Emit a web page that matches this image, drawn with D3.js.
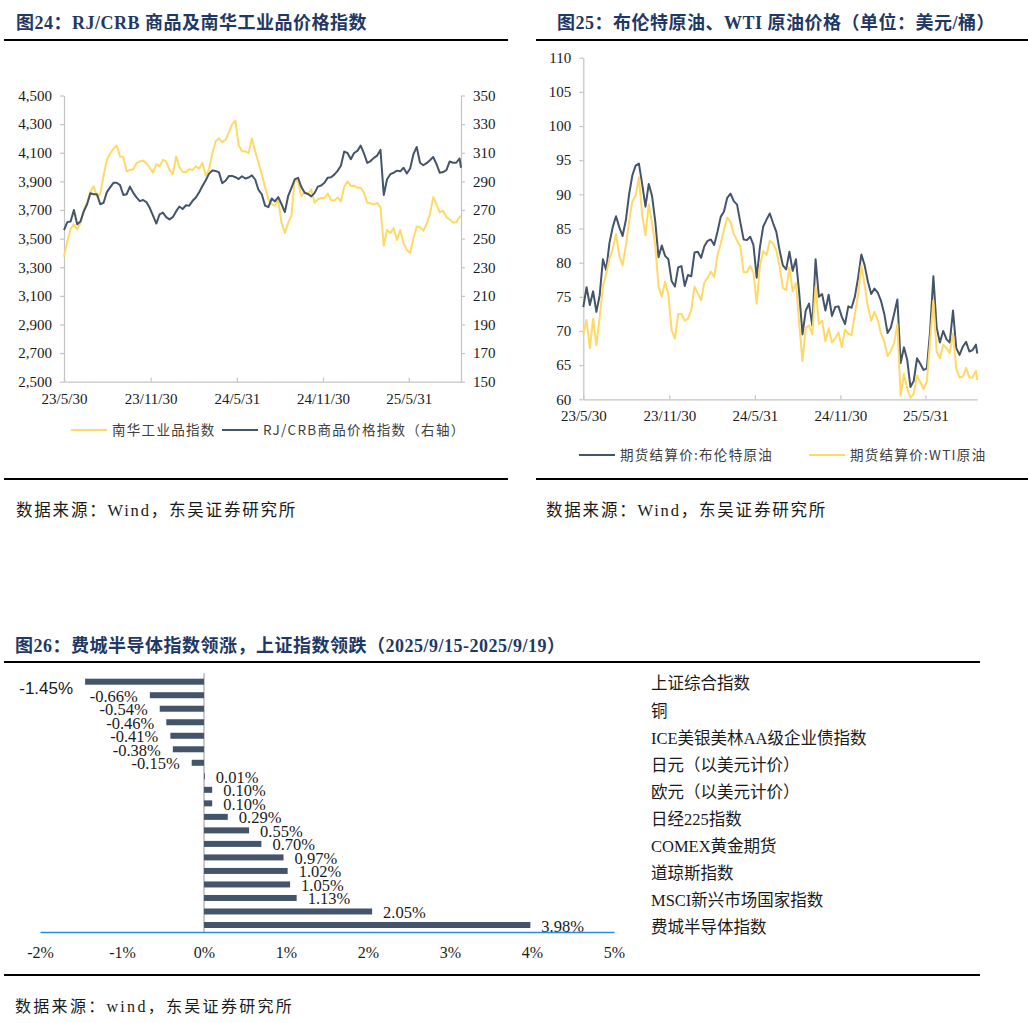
<!DOCTYPE html>
<html lang="zh-CN">
<head>
<meta charset="utf-8">
<title>大类资产价格</title>
<script src="https://cdn.jsdelivr.net/npm/d3@7"></script>
<style>
  body { margin: 0; background: #fff; }
  svg { display: block; }
</style>
</head>
<body>
<svg id="page" width="1028" height="1023"></svg>
<script>
// weekly sampling (Tuesdays), plus the last day
const DATES = [
  "2023-05-30","2023-06-06","2023-06-13","2023-06-20","2023-06-27","2023-07-04","2023-07-11","2023-07-18","2023-07-25","2023-08-01",
  "2023-08-08","2023-08-15","2023-08-22","2023-08-29","2023-09-05","2023-09-12","2023-09-19","2023-09-26","2023-10-03","2023-10-10",
  "2023-10-17","2023-10-24","2023-10-31","2023-11-07","2023-11-14","2023-11-21","2023-11-28","2023-12-05","2023-12-12","2023-12-19",
  "2023-12-26","2024-01-02","2024-01-09","2024-01-16","2024-01-23","2024-01-30","2024-02-06","2024-02-13","2024-02-20","2024-02-27",
  "2024-03-05","2024-03-12","2024-03-19","2024-03-26","2024-04-02","2024-04-09","2024-04-16","2024-04-23","2024-04-30","2024-05-07",
  "2024-05-14","2024-05-21","2024-05-28","2024-06-04","2024-06-11","2024-06-18","2024-06-25","2024-07-02","2024-07-09","2024-07-16",
  "2024-07-23","2024-07-30","2024-08-06","2024-08-13","2024-08-20","2024-08-27","2024-09-03","2024-09-10","2024-09-17","2024-09-24",
  "2024-10-01","2024-10-08","2024-10-15","2024-10-22","2024-10-29","2024-11-05","2024-11-12","2024-11-19","2024-11-26","2024-12-03",
  "2024-12-10","2024-12-17","2024-12-24","2024-12-31","2025-01-07","2025-01-14","2025-01-21","2025-01-28","2025-02-04","2025-02-11",
  "2025-02-18","2025-02-25","2025-03-04","2025-03-11","2025-03-18","2025-03-25","2025-04-01","2025-04-08","2025-04-15","2025-04-22",
  "2025-04-29","2025-05-06","2025-05-13","2025-05-20","2025-05-27","2025-06-03","2025-06-10","2025-06-17","2025-06-24","2025-07-01",
  "2025-07-08","2025-07-15","2025-07-22","2025-07-29","2025-08-05","2025-08-12","2025-08-19","2025-08-26","2025-09-02","2025-09-09",
  "2025-09-16","2025-09-19"
];

// 图24
const NANHUA = [
  3374,3480,3565,3600,3565,3610,3700,3750,3830,3865,
  3795,3810,3940,4050,4095,4130,4150,4073,4070,3970,
  3980,3985,4028,4040,4045,4025,3995,3960,4020,4005,
  4050,4040,3980,3950,4073,4000,3965,3965,3985,3980,
  4005,3990,4030,3940,3985,4095,4178,4200,4175,4190,
  4240,4298,4325,4150,4110,4110,4097,4200,4110,4030,
  3950,3860,3775,3740,3730,3765,3610,3540,3610,3660,
  3915,3895,3795,3825,3810,3845,3750,3775,3785,3782,
  3815,3770,3767,3787,3760,3860,3900,3868,3870,3855,
  3855,3820,3750,3745,3738,3750,3720,3450,3561,3538,
  3573,3491,3561,3468,3421,3400,3500,3585,3580,3555,
  3600,3670,3790,3740,3684,3695,3650,3633,3612,3615,
  3650,3660
];
const RJCRB = [
  256,261.5,262,270,260,262,269,274,281.7,281,
  281,274,275,282.5,285.8,289,289,287.4,280.5,281,
  286.3,282,278.8,276.2,277,275.5,271.5,266,260.5,267,
  268.2,265,263.4,265,269,272.4,270.7,273.3,273,276.4,
  278.7,282.4,286.8,290.8,295.4,297.6,297.3,296.3,288.7,290.4,
  293.7,293.8,292.9,291.6,293.6,292,292.7,294.2,291.3,284,
  281,273,272,278,276,279,274,268.5,279.8,285.5,
  291.4,292.5,286,282,281.2,279.5,281.8,286.3,287.1,289,
  292.6,292.8,294.7,297.3,300.9,310.8,309.8,305.5,309.8,311.3,
  315,309.5,302.9,304.2,306.4,308,312,280.5,291.5,295,
  296,297.5,297,299.5,295.5,299,309,314,303,301.3,
  302.7,304.8,307,302,296,296.5,297.8,303.9,303,303,
  306,299.5
];

// 图25
const BRENT = [
  73.5,76.4,73.8,75.8,72.8,75.2,80.5,78.9,82.9,85.2,
  86.8,85.2,83.9,86.2,90,92.8,94.2,94.5,91.5,88.2,
  91.5,89.8,86,80.8,82.5,81,80.5,77.3,76.5,79.3,
  79.5,76.6,78.2,78,81.5,81.6,80.7,82.4,83.2,83.4,
  82.6,84.5,86.7,87.5,89.5,90.1,89,88.5,85.9,83.4,
  83.3,83.8,82.6,77.8,82.3,85.3,86.3,87.2,85.8,84.5,
  81.8,79.6,79,81.6,78.8,80.5,75.5,69.5,73,74,
  70.8,80.5,75,75.4,73,75.3,72.2,73.5,73.6,72.1,
  71,73.6,73.4,75,77.8,81.2,79.6,77.2,75.4,76.2,
  75.6,74.4,72.5,69.7,70.5,72.5,74.6,65.3,67.6,65.8,
  61.8,62.7,66,65.2,64.3,64.5,70,78,70.5,68.3,
  70,68.8,68.3,73,67.5,66.5,67.7,68.4,67,67.2,
  68,66.7
];
const WTI = [
  69.5,71.6,67.5,71.8,67.9,72,76.5,78.4,80.6,82,
  84.2,81,79.6,82.5,86,89,89.8,92.5,87,84,
  88.5,85.8,82.5,76.5,75,77.2,75.4,70.1,68.9,72.5,
  72.5,71.5,71.8,73,76.5,75.5,74.5,77.1,77.8,78.7,
  77.9,81,82.8,84.8,86.6,86,84.2,83.2,82.4,78.6,
  78.6,79.5,78.6,74,79.6,81.7,81.1,83.2,82.8,81.8,
  79.5,76.3,76,79.3,75.8,77,71,65.6,70.5,70.8,
  69.5,76.5,71,71.5,68.5,70.4,68.3,68.9,69.8,67.6,
  70.2,69.6,69.4,72.5,75.3,79.6,76.7,73.5,71.5,72.8,
  71.6,69.6,68.5,66.3,67.1,68.2,71,60.5,63.7,61.6,
  60.2,60.8,63.5,62.5,61.5,62.6,68.5,74.5,67,66,
  68,67.5,66.8,69.6,64.5,63.2,63.3,64.6,63.2,63.2,
  64.2,62.8
];
const DATE_TICKS = ["2023-05-30","2023-11-30","2024-05-31","2024-11-30","2025-05-31"];
const NANHUA_TICKS = [2500,2700,2900,3100,3300,3500,3700,3900,4100,4300,4500];
const RJCRB_TICKS = [150,170,190,210,230,250,270,290,310,330,350];
const OIL_TICKS = [60,65,70,75,80,85,90,95,100,105,110];

// 图26 (only every second label is printed in the chart)
const ASSETS = [
  "上证综合指数","恒生指数","铜","美元指数","ICE美银美林AA级企业债指数","布伦特原油","日元（以美元计价）","WTI原油",
  "欧元（以美元计价）","英镑（以美元计价）","日经225指数","德国DAX指数","COMEX黄金期货","标普500指数","道琼斯指数",
  "纳斯达克指数","MSCI新兴市场国家指数","COMEX白银","费城半导体指数"
];
const WEEKLY_CHG = [-1.45,-0.66,-0.54,-0.46,-0.41,-0.38,-0.15,0.01,0.10,0.10,0.29,0.55,0.70,0.97,1.02,1.05,1.13,2.05,3.98];
const PCT_TICKS = [-2,-1,0,1,2,3,4,5];

const SERIF = '"Liberation Serif", "Times New Roman", "Noto Sans CJK SC", serif';
const CJK = '"Noto Sans CJK SC", "Liberation Serif", sans-serif';
const NAVY = "#1f3864";
const GOLD = "#ffd966";
const SLATE = "#44546a";
const GREY = "#c4c4c4";

const parse = d3.timeParse("%Y-%m-%d");
const dateFmt = d3.timeFormat("%y/%-m/%-d");
const dates = DATES.map(parse);
// plain hyphen as minus sign, like the original
const pctFmt = d3.formatLocale({ decimal: ".", thousands: ",", grouping: [3], currency: ["", ""], minus: "-" }).format(".2f");

const svg = d3.select("#page");

function styleAxis(g, size) {
  g.attr("font-family", SERIF).attr("font-size", size || 15);
  g.select(".domain").attr("stroke", GREY).attr("stroke-width", 1.2);
  g.selectAll(".tick line").attr("stroke", GREY).attr("stroke-width", 1.2);
  g.selectAll(".tick text").attr("fill", "#1a1a1a");
}

function title(x, y, text) {
  svg.append("text")
    .attr("x", x).attr("y", y)
    .attr("font-family", SERIF).attr("font-weight", "bold")
    .attr("font-size", 18).attr("letter-spacing", 0.5)
    .attr("fill", NAVY)
    .text(text);
}

function rule(x0, x1, y) {
  svg.append("line")
    .attr("x1", x0).attr("x2", x1).attr("y1", y).attr("y2", y)
    .attr("stroke", "#000").attr("stroke-width", 2);
}

function source(x, y, text, size, spacing) {
  svg.append("text")
    .attr("x", x).attr("y", y)
    .attr("font-family", SERIF).attr("font-size", size)
    .attr("letter-spacing", spacing)
    .attr("fill", "#1a1a1a")
    .text(text);
}

function legend(items, y) {
  items.forEach(it => {
    svg.append("line")
      .attr("x1", it.x).attr("x2", it.x + 36).attr("y1", y).attr("y2", y)
      .attr("stroke", it.color).attr("stroke-width", 2);
    svg.append("text")
      .attr("x", it.x + 41).attr("y", y).attr("dy", "0.36em")
      .attr("font-family", CJK).attr("font-size", 13.5)
      .attr("letter-spacing", 1.3)
      .attr("fill", "#404040")
      .text(it.label);
  });
}

function lineChart(opt) {
  const x = d3.scaleTime().domain(d3.extent(dates)).range([opt.left, opt.right]);
  const yL = d3.scaleLinear().domain(opt.leftDomain).range([opt.bottom, opt.top]).clamp(true);
  const yR = opt.rightDomain ? d3.scaleLinear().domain(opt.rightDomain).range([opt.bottom, opt.top]).clamp(true) : null;
  const g = svg.append("g");

  g.append("g")
    .attr("transform", `translate(0,${opt.bottom})`)
    .call(d3.axisBottom(x).tickValues(DATE_TICKS.map(parse)).tickFormat(dateFmt)
      .tickSizeInner(-4).tickSizeOuter(0).tickPadding(opt.xPad))
    .call(styleAxis);

  g.append("g")
    .attr("transform", `translate(${opt.left},0)`)
    .call(d3.axisLeft(yL).tickValues(opt.leftTicks).tickFormat(opt.leftFormat)
      .tickSizeInner(4).tickSizeOuter(0).tickPadding(8))
    .call(styleAxis);

  if (yR) {
    g.append("g")
      .attr("transform", `translate(${opt.right},0)`)
      .call(d3.axisRight(yR).tickValues(opt.rightTicks).tickFormat(d3.format("d"))
        .tickSizeInner(4).tickSizeOuter(0).tickPadding(8))
      .call(styleAxis);
  }

  opt.series.forEach(s => {
    const y = s.right ? yR : yL;
    g.append("path")
      .datum(s.values)
      .attr("fill", "none")
      .attr("stroke", s.color)
      .attr("stroke-width", 2)
      .attr("stroke-linejoin", "round")
      .attr("d", d3.line()
        .x((d, i) => x(dates[i]))
        .y(d => y(d)));
  });
}

// ---------- 图24 ----------
title(16, 28.5, "图24：RJ/CRB 商品及南华工业品价格指数");
rule(4, 508, 40);
lineChart({
  left: 64, right: 461, top: 95.5, bottom: 381.7, xPad: 12,
  leftDomain: [2500, 4500], leftTicks: NANHUA_TICKS, leftFormat: d3.format(","),
  rightDomain: [150, 350], rightTicks: RJCRB_TICKS,
  series: [
    { values: NANHUA, color: GOLD },
    { values: RJCRB, color: SLATE, right: true }
  ]
});
legend([
  { x: 71, color: GOLD, label: "南华工业品指数" },
  { x: 222, color: SLATE, label: "RJ/CRB商品价格指数（右轴）" }
], 430);
rule(4, 508, 479);
source(16, 516, "数据来源：Wind，东吴证券研究所", 16.5, 1.8);

// ---------- 图25 ----------
title(557, 28.5, "图25：布伦特原油、WTI 原油价格（单位：美元/桶）");
rule(536, 1028, 40);
lineChart({
  left: 583.3, right: 977.3, top: 57.7, bottom: 399.3, xPad: 11,
  leftDomain: [60, 110], leftTicks: OIL_TICKS, leftFormat: d3.format("d"),
  series: [
    { values: BRENT, color: SLATE },
    { values: WTI, color: GOLD }
  ]
});
legend([
  { x: 579, color: SLATE, label: "期货结算价:布伦特原油" },
  { x: 809, color: GOLD, label: "期货结算价:WTI原油" }
], 455);
rule(536, 1028, 479);
source(546, 516, "数据来源：Wind，东吴证券研究所", 16.5, 1.8);

// ---------- 图26 ----------
title(15, 651.5, "图26：费城半导体指数领涨，上证指数领跌（2025/9/15-2025/9/19）");
rule(4, 980, 662);

const xB = d3.scaleLinear().domain([-2, 5]).range([40, 614]);
const yB = d3.scalePoint().domain(ASSETS).range([681.7, 925]);
const bars = svg.append("g");
const rows = ASSETS.map((a, i) => ({ name: a, v: WEEKLY_CHG[i] }));

bars.append("line")
  .attr("x1", xB(0)).attr("x2", xB(0)).attr("y1", 673).attr("y2", 932)
  .attr("stroke", "#a6a6a6").attr("stroke-width", 1.2);

bars.selectAll("rect.bar")
  .data(rows)
  .enter()
  .append("rect")
  .attr("class", "bar")
  .attr("x", d => xB(Math.min(0, d.v)))
  .attr("width", d => Math.abs(xB(d.v) - xB(0)))
  .attr("y", d => yB(d.name) - 3)
  .attr("height", 6)
  .attr("fill", SLATE);

bars.selectAll("text.val")
  .data(rows)
  .enter()
  .append("text")
  .attr("class", "val")
  .attr("x", d => d.v < 0 ? xB(d.v) - 12 : xB(d.v) + 11)
  .attr("y", (d, i) => yB(d.name) + (i === 0 ? 12 : 6.5))
  .attr("text-anchor", d => d.v < 0 ? "end" : "start")
  .attr("font-family", (d, i) => i === 0 ? '"Liberation Sans", Arial, sans-serif' : SERIF)
  .attr("font-size", (d, i) => i === 0 ? 17 : 16.5)
  .attr("fill", "#1a1a1a")
  .text(d => pctFmt(d.v) + "%");

bars.append("g")
  .attr("transform", "translate(0,932)")
  .call(d3.axisBottom(xB).tickValues(PCT_TICKS).tickFormat(d => d + "%").tickSize(0).tickPadding(15))
  .call(g => {
    styleAxis(g, 16);
    g.select(".domain").attr("stroke", "#2e8bd8").attr("stroke-width", 1.3);
  });

bars.append("g")
  .attr("transform", "translate(645,2)")
  .call(d3.axisRight(yB).tickValues(ASSETS.filter((d, i) => i % 2 === 0)).tickSize(0).tickPadding(6))
  .call(g => {
    g.select(".domain").remove();
    g.attr("font-family", SERIF).attr("font-size", 16.5);
    g.selectAll(".tick text").attr("fill", "#1a1a1a");
  });

rule(4, 980, 975);
source(15, 1012, "数据来源：wind，东吴证券研究所", 16, 2.3);
</script>
</body>
</html>
